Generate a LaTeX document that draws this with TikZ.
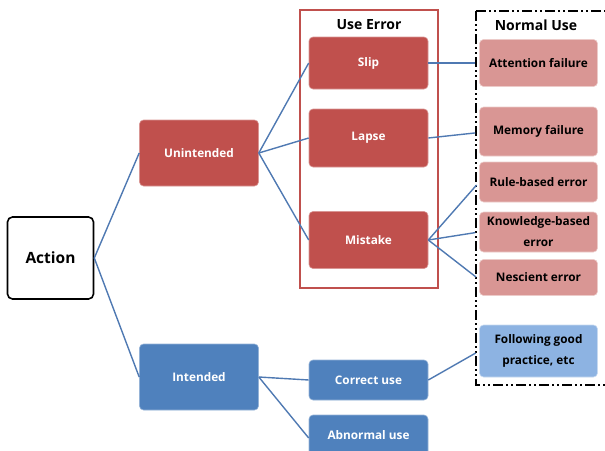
\documentclass[tikz,border=0pt]{standalone}
\usepackage{fontspec}
\setmainfont{Open Sans}
\begin{document}
\begin{tikzpicture}[x=1pt,y=-1pt,
  box/.style={rounded corners=4pt, minimum width=119pt, align=center,
    font=\bfseries\fontsize{11.8}{21}\selectfont, inner sep=1pt},
  redbox/.style={box, fill=errred, draw=errred!60!white, text=white, line width=0.6pt},
  bluebox/.style={box, fill=useblue, draw=useblue!60!white, text=white, line width=0.6pt},
  pinkbox/.style={box, fill=pinkfill, draw=pinkfill!50!white, text=black, minimum width=118pt, line width=0.6pt},
  lightbox/.style={box, fill=lightblue, draw=lightblue!50!white, text=black, minimum width=118pt, line width=0.6pt},
  link/.style={draw=linkblue, line width=1.4pt},
  title/.style={font=\bfseries\fontsize{14}{16}\selectfont, text=black}
]
\definecolor{errred}{RGB}{192,80,77}
\definecolor{useblue}{RGB}{79,129,189}
\definecolor{pinkfill}{RGB}{217,150,148}
\definecolor{lightblue}{RGB}{141,179,226}
\definecolor{linkblue}{RGB}{79,121,178}

\useasboundingbox (0,0) rectangle (605,450);
\clip (0,0) rectangle (605,450);

% group frames
\draw[errred, line width=1.2pt] (300,10) rectangle (438,288);
\draw[black, line width=1.8pt, dash pattern=on 10pt off 3pt on 2pt off 3pt on 2pt off 3pt]
  (476,11) -- (610,11) (476,11) -- (476,385) -- (610,385);
\node[title] (uetitle) at (369,25) {Use Error};
\node[title] (nutitle) at (536,25) {Normal Use};

% root
\node[draw=black, line width=1.6pt, rounded corners=5pt, fill=white,
  minimum width=86pt, minimum height=82pt,
  font=\bfseries\fontsize{15.5}{18}\selectfont] (action) at (50.5,258) {Action};

% first level
\node[redbox, minimum height=66pt] (unint) at (199,153) {Unintended};
\node[bluebox, minimum height=66pt] (intend) at (199,377) {Intended};

% use error kinds
\node[redbox, minimum height=52pt] (slip) at (368.5,63) {Slip};
\node[redbox, minimum height=58pt] (lapse) at (368.5,138) {Lapse};
\node[redbox, minimum height=57pt] (mistake) at (368.5,240) {Mistake};

% intended use kinds
\node[bluebox, minimum height=40pt] (correct) at (368.5,380) {Correct use};
\node[bluebox, minimum height=40pt] (abnormal) at (368.5,435) {Abnormal use};

% normal use causes
\node[pinkbox, minimum height=47pt] (attn) at (538.5,63) {Attention failure};
\node[pinkbox, minimum height=49pt] (memory) at (538.5,131.5) {Memory failure};
\node[pinkbox, minimum height=40pt] (rule) at (538.5,182) {Rule-based error};
\node[pinkbox, minimum height=40pt] (know) at (538.5,232) {Knowledge-based\\error};
\node[pinkbox, minimum height=36pt] (nesc) at (538.5,277.5) {Nescient error};
\node[lightbox, minimum height=52pt] (follow) at (538.5,351) {Following good\\practice, etc};

% connectors
\draw[link] (action.east) -- (unint.west);
\draw[link] (action.east) -- (intend.west);
\draw[link] (unint.east) -- (slip.west);
\draw[link] (unint.east) -- (lapse.west);
\draw[link] (unint.east) -- (mistake.west);
\draw[link] (intend.east) -- (correct.west);
\draw[link] (intend.east) -- ([yshift=-3pt]abnormal.west);
\draw[link, shorten >=4pt] (slip.east) -- (attn.west);
\draw[link, shorten >=4pt] (lapse.east) -- ([yshift=-1pt]memory.west);
\draw[link, shorten >=4pt] (mistake.east) -- (rule.west);
\draw[link, shorten >=4pt] (mistake.east) -- (know.west);
\draw[link, shorten >=4pt] (mistake.east) -- ([yshift=-2pt]nesc.west);
\draw[link, shorten >=4pt] (correct.east) -- (follow.west);
\end{tikzpicture}
\end{document}
